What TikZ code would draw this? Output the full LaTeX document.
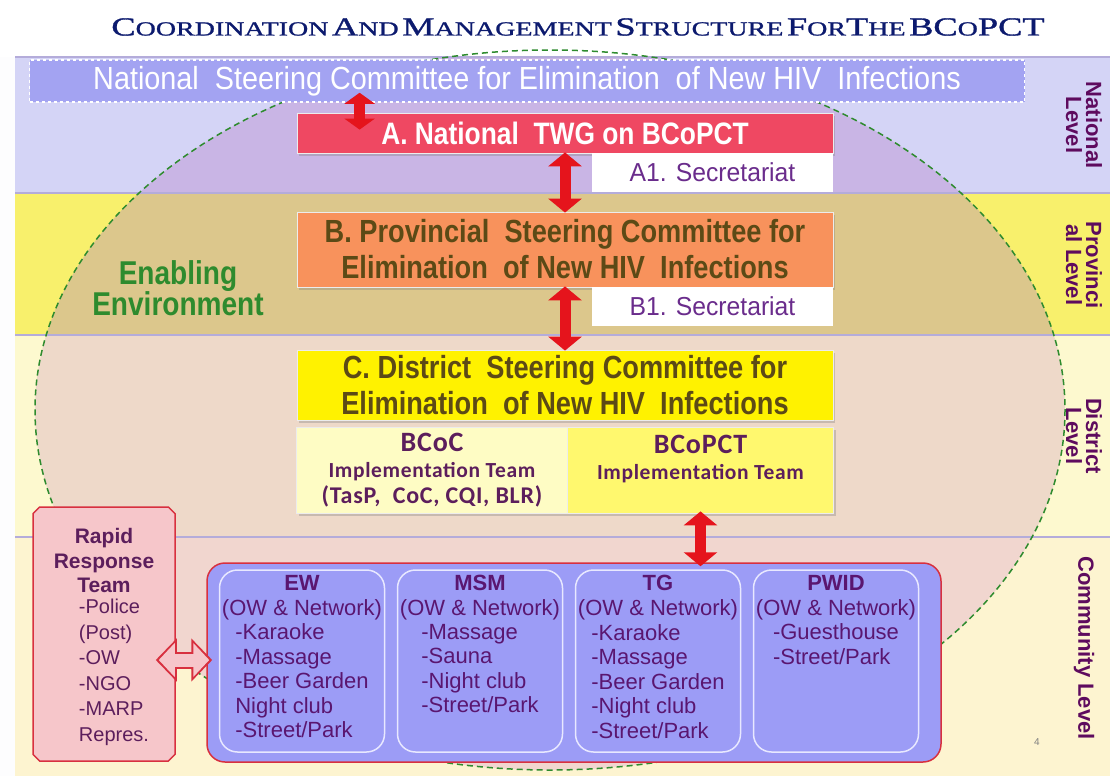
\documentclass[tikz,border=0pt]{standalone}
\usepackage{fontspec}
\setmainfont{Liberation Sans}
\newfontfamily\narrowsf[FakeStretch=0.85]{Liberation Sans}
\newfontfamily\natsf[FakeStretch=0.9]{Liberation Sans}
\newfontfamily\secsf[FakeStretch=0.95]{Liberation Sans}
\newfontfamily\titlerm[FakeStretch=1.4,FakeBold=1.2]{Liberation Serif}
\newfontfamily\calib[LetterSpace=3]{Carlito}
\usetikzlibrary{shapes.misc,shadows,arrows.meta}
\definecolor{natout}{HTML}{D4D4F6}
\definecolor{natin}{HTML}{C9B5E5}
\definecolor{provout}{HTML}{F8F06C}
\definecolor{provin}{HTML}{DCC78C}
\definecolor{distout}{HTML}{FDF9CF}
\definecolor{distin}{HTML}{EED9C9}
\definecolor{comout}{HTML}{FDF4D0}
\definecolor{comin}{HTML}{F1D6CF}
\definecolor{natblue}{HTML}{A3A3F2}
\definecolor{twgred}{HTML}{EF4862}
\definecolor{provorange}{HTML}{F8925C}
\definecolor{distyellow}{HTML}{FFF200}
\definecolor{celllight}{HTML}{FEFCC4}
\definecolor{cellyel}{HTML}{FFF86E}
\definecolor{cellpurple}{HTML}{5C1E5C}
\definecolor{secpurple}{HTML}{6A2C8C}
\definecolor{ocher}{HTML}{5C4A16}
\definecolor{commblue}{HTML}{9C9CF6}
\definecolor{grpline}{HTML}{E8E8FF}
\definecolor{grppurple}{HTML}{5A1670}
\definecolor{rrtpink}{HTML}{F6C6CA}
\definecolor{rrtred}{HTML}{D8303F}
\definecolor{arrred}{HTML}{E5141C}
\definecolor{envgreen}{HTML}{2E8B2E}
\definecolor{lvlpurple}{HTML}{5E0B5E}
\definecolor{titleblue}{HTML}{0C1A6E}
\definecolor{bandline}{HTML}{B4ACDA}
\newcommand\bigsmall[2]{{\fontsize{26}{26}\selectfont #1}{\fontsize{20}{20}\selectfont #2}}
\begin{document}
\begin{tikzpicture}[x=1pt,y=-1pt,
	shadowbox/.style={draw=white!85!gray, line width=0.8pt, drop shadow={opacity=0.35,shadow xshift=2pt,shadow yshift=-2.5pt}},
	steerbox/.style={shadowbox, minimum width=536pt, text=ocher, align=center, font=\narrowsf\bfseries\fontsize{32}{36}\selectfont},
	secbox/.style={fill=white, text=secpurple, minimum width=241pt, minimum height=39pt, font=\secsf\fontsize{26}{28}\selectfont},
	cellbox/.style={shadowbox, minimum height=86pt, text=cellpurple, align=center, font=\calib\bfseries\fontsize{22}{26}\selectfont},
	grpbox/.style={draw=grpline, line width=1.5pt, fill=commblue, rounded corners=18pt, minimum width=165pt, minimum height=182pt},
	grptext/.style={inner sep=0pt, text=grppurple, font=\fontsize{22}{24.5}\selectfont},
	lvl/.style={rotate=-90, align=center, text=lvlpurple, font=\bfseries\fontsize{22}{20}\selectfont},
	redarr/.style={draw=arrred, line width=11pt, <->, >={Triangle[length=14pt,width=33pt]}}
	]
	\useasboundingbox (0,0) rectangle (1110,776);
	\fill[white!95!natout] (0,57) rectangle (15,776);
	\foreach \btop/\bbot/\bout/\binn in {57/193/natout/natin, 193/335/provout/provin, 335/537/distout/distin, 537/776/comout/comin}{
		\fill[\bout] (15,\btop) rectangle (1110,\bbot);
		\begin{scope}
			\clip (550,410) ellipse [x radius=515, y radius=360];
			\fill[\binn] (15,\btop) rectangle (1110,\bbot);
		\end{scope}
		\draw[bandline, line width=1.5pt] (15,\btop) -- (1110,\btop);
	}
	\draw[envgreen, line width=1.5pt, dash pattern=on 6pt off 4pt] (550,410) ellipse [x radius=515, y radius=360];
	\node[text=titleblue, font=\titlerm] (title) at (578,27) {\bigsmall{C}{OORDINATION} \bigsmall{A}{ND} \bigsmall{M}{ANAGEMENT} \bigsmall{S}{TRUCTURE} \bigsmall{F}{OR}\bigsmall{T}{HE} \bigsmall{BC}{O}{\fontsize{26}{26}\selectfont PCT}};
	\node[draw=white, dashed, line width=1.5pt, fill=natblue, minimum width=995pt, minimum height=42pt, text=white, font=\natsf\fontsize{32}{34}\selectfont] (nat) at (527,81) {National\ \ Steering Committee for Elimination\ \ of New HIV\ \ Infections};
	\node[shadowbox, fill=twgred, minimum width=536pt, minimum height=40pt, text=white, font=\narrowsf\bfseries\fontsize{31}{33}\selectfont] (twg) at (565,133) {A. National\ \ TWG on BCoPCT};
	\node[secbox] (seca) at (712.5,172.5) {A1. Secretariat};
	\node[steerbox, fill=provorange, minimum height=75pt] (provsc) at (565,249.5) {B. Provincial\ \ Steering Committee for\\Elimination\ \ of New HIV\ \ Infections};
	\node[secbox] (secb) at (712.5,306) {B1. Secretariat};
	\node[steerbox, fill=distyellow, minimum height=70pt] (distsc) at (565,385) {C. District\ \ Steering Committee for\\Elimination\ \ of New HIV\ \ Infections};
	\node[cellbox, fill=celllight, minimum width=271pt] (coc) at (432,470) {\fontsize{28}{26}\selectfont BCoC\\\fontsize{21.5}{26}\selectfont Implementation Team\\\fontsize{24}{26}\selectfont (TasP,\ \ CoC, CQI, BLR)};
	\node[cellbox, fill=cellyel, minimum width=266pt] (pct) at (700.5,470) {\fontsize{28}{26}\selectfont BCoPCT\\\fontsize{21.5}{26}\selectfont Implementation Team\\\mbox{}};
	\node[align=center, text=envgreen, font=\narrowsf\bfseries\fontsize{33}{31}\selectfont] (env) at (178,288) {Enabling\\Environment};
	\node[chamfered rectangle, chamfered rectangle sep=24pt, draw=rrtred, line width=1.5pt, fill=rrtpink, minimum width=142pt, minimum height=254pt] (rrt) at (104,634) {};
	\node[grptext, text=cellpurple, align=center, anchor=north, font=\bfseries\fontsize{21}{24.5}\selectfont] (rrt-h) at ([yshift=-22pt]rrt.north) {Rapid\\Response\\Team};
	\node[grptext, text=cellpurple, align=left, anchor=north, font=\fontsize{20}{25.5}\selectfont] (rrt-l) at ([xshift=10pt,yshift=-6pt]rrt-h.south) {-Police\\(Post)\\-OW\\-NGO\\-MARP\\Repres.};
	\node[draw=rrtred, line width=1.5pt, fill=commblue, rounded corners=18pt, minimum width=734pt, minimum height=199pt] (comm) at (574,662.5) {};
	\foreach \gname/\ghead/\gitems [count=\gi] in {ew/EW/{-Karaoke\\-Massage\\-Beer Garden\\Night club\\-Street/Park}, msm/MSM/{-Massage\\-Sauna\\-Night club\\-Street/Park}, tg/TG/{-Karaoke\\-Massage\\-Beer Garden\\-Night club\\-Street/Park}, pwid/PWID/{-Guesthouse\\-Street/Park}}{
		\node[grpbox] (\gname) at (124+178*\gi,661) {};
		\node[grptext, align=center, anchor=north] (\gname-t) at ([yshift=-6pt]\gname.north) {\textbf{\ghead}\\(OW \& Network)};
		\node[grptext, align=left, anchor=north] (\gname-l) at ([yshift=-4pt]\gname-t.south) {\gitems};
	}
	\foreach \lvltext/\ly [count=\li] in {{National\\Level}/125, {Provinci\\al Level}/265, {District\\Level}/436, {Community Level}/648}
		\node[lvl] (lvl\li) at (1084,\ly) {\lvltext};
	\node[text=gray, font=\fontsize{10}{10}\selectfont] (pg) at (1037,742) {4};
	\coordinate (na) at ([xshift=63pt]twg.north west);
	\draw[redarr, >={Triangle[length=11pt,width=30pt]}, shorten <=-10pt, shorten >=-17pt] (na |- nat.south) -- (na);
	\draw[redarr, shorten <=-1pt, shorten >=-1pt] (twg.south) -- (provsc.north);
	\draw[redarr, shorten <=-1pt, shorten >=-1pt] (provsc.south) -- (distsc.north);
	\draw[redarr, shorten <=-2pt, shorten >=-4pt] (pct.south) -- (pct.south |- comm.north);
	\coordinate (pk) at (0,660);
	\draw[draw=rrtred, line width=17pt, <->, >={Triangle[length=21pt,width=42pt]}, shorten <=-20pt, shorten >=-6pt] (rrt.east |- pk) -- (comm.west |- pk);
	\draw[draw=rrtpink, line width=13pt, <->, >={Triangle[length=16pt,width=33pt]}, shorten <=-17pt, shorten >=-3pt] (rrt.east |- pk) -- (comm.west |- pk);
\end{tikzpicture}
\end{document}
